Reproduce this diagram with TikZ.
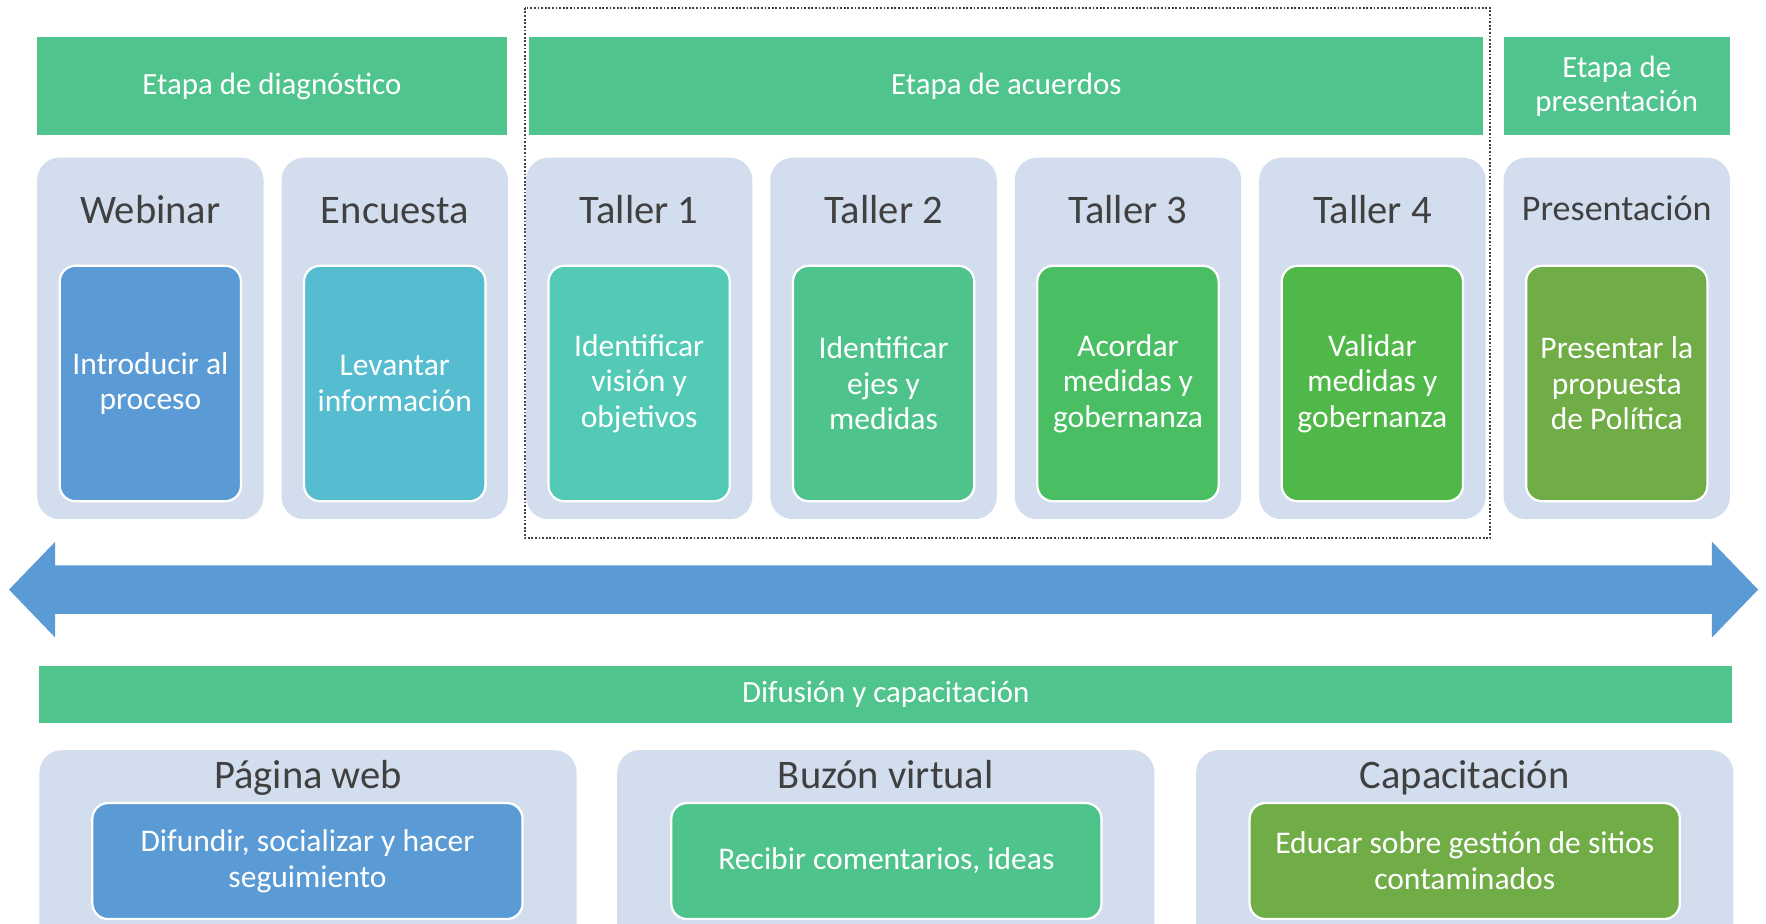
\documentclass[tikz,border=0pt]{standalone}
\usepackage{fontspec}
\setmainfont{Carlito}
\usetikzlibrary{positioning}

\definecolor{verdeEtapa}{HTML}{4FC58D}
\definecolor{grisMarco}{HTML}{D2DDEE}
\definecolor{azulFlecha}{HTML}{5B9BD5}
\definecolor{grisTitulo}{HTML}{404040}
\definecolor{cWebinar}{HTML}{5B9BD5}
\definecolor{cEncuesta}{HTML}{56BCCF}
\definecolor{cTallerA}{HTML}{52CAB5}
\definecolor{cTallerB}{HTML}{4EC48C}
\definecolor{cTallerC}{HTML}{49BE62}
\definecolor{cTallerD}{HTML}{50B848}
\definecolor{cPresenta}{HTML}{70AD47}

\tikzset{
  etapa/.style={rectangle, fill=verdeEtapa, text=white, inner sep=0pt, align=center,
    minimum height=43.5pt, font=\fontsize{13.7}{15}\selectfont},
  marco/.style={rectangle, fill=grisMarco, rounded corners=10pt, inner sep=0pt,
    minimum width=100.5pt, minimum height=160.5pt},
  marcoAncho/.style={marco, minimum width=238.5pt, minimum height=104pt},
  titulo/.style={anchor=base, text=grisTitulo, inner sep=0pt, font=\fontsize{18}{20}\selectfont},
  caja/.style={rectangle, draw=white, line width=1pt, rounded corners=7pt, text=white,
    align=center, inner sep=0pt, minimum width=80.5pt, minimum height=104.5pt,
    font=\fontsize{14}{15.8}\selectfont},
  cajaAncha/.style={caja, minimum width=191pt, minimum height=51.5pt,
    font=\fontsize{14}{16}\selectfont},
  punteado/.style={line width=0.8pt, color=black!75, dash pattern=on 0.8pt off 0.8pt}
}

\begin{document}
\begin{tikzpicture}[x=0.5pt,y=-0.5pt]
			%%%%% START %%%%%
			\clip (0,0) rectangle (1568,820);
			
			\node[etapa, minimum width=208.5pt] (diagnostico) at (241.5,76.5) {Etapa de diagnóstico};
			\node[etapa, minimum width=423.5pt] (acuerdos) at (893.5,76.5) {Etapa de acuerdos};
			\node[etapa, minimum width=100.5pt] (presentacion) at (1435.5,76.5) {Etapa de\\presentación};
			
			\draw[punteado] (466,7) rectangle (1323,478);
			
			\node[marco] (webinar) at (133.5,300.5) {};
			\node[titulo] (tWebinar) at (133.5,198) {Webinar};
			\node[caja, fill=cWebinar] (iWebinar) at (133.5,340.5) {Introducir al\\proceso};
			
			\node[marco] (encuesta) at (350.5,300.5) {};
			\node[titulo] (tEncuesta) at (350.5,198) {Encuesta};
			\node[caja, fill=cEncuesta] (iEncuesta) at (350.5,340.5) {Levantar\\información};
			
			\node[marco] (tallerA) at (567.5,300.5) {};
			\node[titulo] (tTallerA) at (567.5,198) {Taller 1};
			\node[caja, fill=cTallerA] (iTallerA) at (567.5,340.5) {Identificar\\visión y\\objetivos};
			
			\node[marco] (tallerB) at (784.5,300.5) {};
			\node[titulo] (tTallerB) at (784.5,198) {Taller 2};
			\node[caja, fill=cTallerB] (iTallerB) at (784.5,340.5) {Identificar\\ejes y\\medidas};
			
			\node[marco] (tallerC) at (1001.5,300.5) {};
			\node[titulo] (tTallerC) at (1001.5,198) {Taller 3};
			\node[caja, fill=cTallerC] (iTallerC) at (1001.5,340.5) {Acordar\\medidas y\\gobernanza};
			
			\node[marco] (tallerD) at (1218.5,300.5) {};
			\node[titulo] (tTallerD) at (1218.5,198) {Taller 4};
			\node[caja, fill=cTallerD] (iTallerD) at (1218.5,340.5) {Validar\\medidas y\\gobernanza};
			
			\node[marco] (presenta) at (1435.5,300.5) {};
			\node[titulo, font=\fontsize{16}{18}\selectfont] (tPresenta) at (1435.5,196) {Presentación};
			\node[caja, fill=cPresenta] (iPresenta) at (1435.5,340.5) {Presentar la\\propuesta\\de Política};
			
			\fill[azulFlecha] (8,523.5) -- (49,481) -- (49,502) -- (1520,502) -- (1520,481) -- (1561,523.5)
			  -- (1520,566) -- (1520,545) -- (49,545) -- (49,566) -- cycle;
			
			\node[etapa, minimum width=751.5pt, minimum height=25.5pt] (difusion) at (786.5,616.5) {Difusión y capacitación};
			
			\node[marcoAncho] (web) at (273.5,770) {};
			\node[titulo] (tWeb) at (273.5,700) {Página web};
			\node[cajaAncha, fill=cWebinar] (iWeb) at (273,764.5) {Difundir, socializar y hacer\\seguimiento};
			
			\node[marcoAncho] (buzon) at (786.5,770) {};
			\node[titulo] (tBuzon) at (786.5,700) {Buzón virtual};
			\node[cajaAncha, fill=cTallerB] (iBuzon) at (787,764.5) {Recibir comentarios, ideas};
			
			\node[marcoAncho] (capacita) at (1300.5,770) {};
			\node[titulo] (tCapacita) at (1300.5,700) {Capacitación};
			\node[cajaAncha, fill=cPresenta] (iCapacita) at (1300.5,764.5) {Educar sobre gestión de sitios\\contaminados};
			
			%%%%% END %%%%%
\end{tikzpicture}
\end{document}
